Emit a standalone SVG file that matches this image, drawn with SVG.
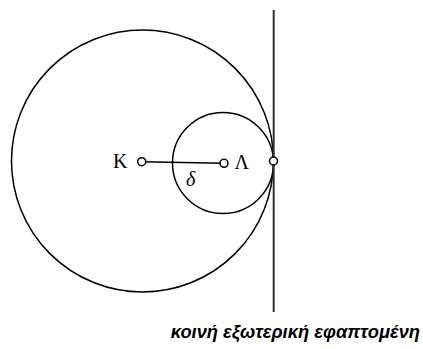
<svg xmlns="http://www.w3.org/2000/svg" width="423" height="349" viewBox="0 0 423 349">
<style>
.c{fill:none;stroke:#000;stroke-width:1.5}
.pt{fill:#fff;stroke:#000;stroke-width:1.5}
.lbl{font-family:"Liberation Serif",serif;font-size:20px;fill:#000}
.cap{font-family:"Liberation Sans",Arial,sans-serif;font-size:18.3px;font-weight:bold;font-style:italic;fill:#000}
</style>
<rect width="423" height="349" fill="#fff"/>
<g id="circleK"><circle class="c" cx="142.5" cy="161" r="131"/></g>
<g id="circleL"><circle class="c" cx="223" cy="163" r="50.5"/></g>
<g id="connectors">
<line x1="273.7" y1="10" x2="273.7" y2="312" stroke="#333" stroke-width="2"/>
<line x1="141.7" y1="161.7" x2="224" y2="163.3" stroke="#000" stroke-width="1.5"/>
</g>
<g id="K"><circle class="pt" cx="141.7" cy="161.7" r="4"/><text class="lbl" x="113" y="168">Κ</text></g>
<g id="L"><circle class="pt" cx="224" cy="163.3" r="4"/><text class="lbl" x="234.5" y="169">Λ</text></g>
<g id="T"><circle class="pt" cx="273.5" cy="161" r="4"/></g>
<text class="lbl" x="186" y="186" font-style="italic" font-size="20">δ</text>
<text class="cap" x="420" y="338" text-anchor="end">κοινή εξωτερική εφαπτομένη</text>
</svg>
